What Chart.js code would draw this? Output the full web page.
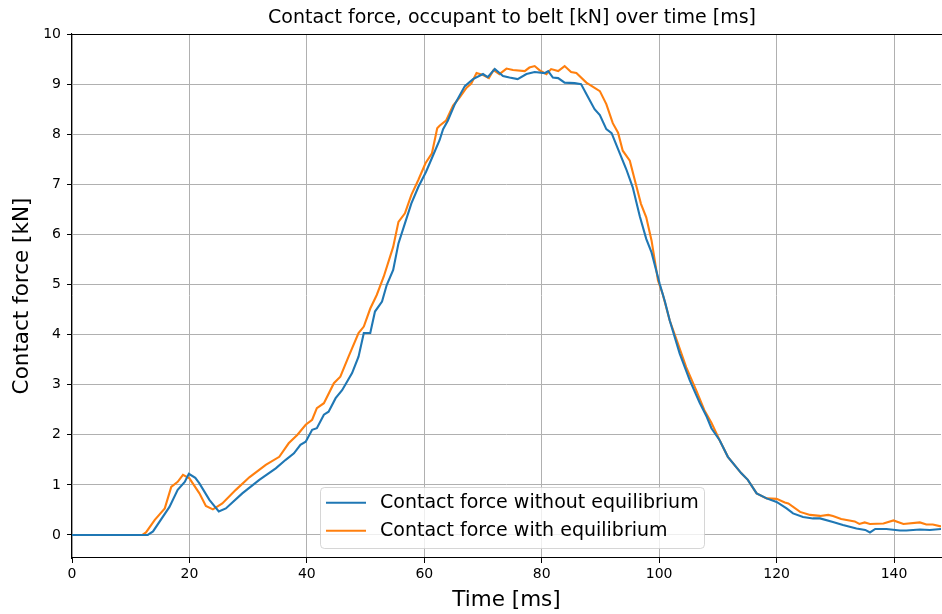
<!DOCTYPE html>
<html>
<head>
<meta charset="utf-8">
<script src="https://cdn.jsdelivr.net/npm/chart.js@4/dist/chart.umd.min.js"></script>
<style>
  html, body { margin: 0; padding: 0; background: #fff; overflow: hidden; }
  #c { display: block; }
</style>
</head>
<body>
<canvas id="c" width="942" height="614"></canvas>
<script>
// Belt contact force over time, two simulation variants.
const timeNoEq = [0, 12.9, 13.8, 16.6, 18.0, 19.2, 19.9, 21.0, 21.7, 23.4, 25.0, 26.2, 29.0, 31.9, 34.7,
  36.4, 37.8, 38.9, 39.8, 40.9, 41.7, 42.9, 43.7, 44.9, 46.0, 47.7, 48.8, 49.7, 50.8, 51.6, 52.8, 53.6,
  54.7, 55.6, 56.7, 57.8, 59.0, 60.3, 61.5, 62.6, 63.2, 64.0, 65.2, 66.9, 68.3, 70.0, 70.8, 72.0, 73.4,
  74.5, 75.9, 77.4, 78.8, 80.5, 81.1, 81.9, 82.8, 83.9, 85.6, 86.7, 87.6, 89.0, 89.9, 91.0, 91.9, 93.0,
  94.4, 95.5, 96.7, 97.8, 98.7, 99.5, 100.1, 101.0, 101.8, 103.5, 105.2, 106.9, 108.1, 108.9, 110.3,
  111.7, 114.0, 115.1, 116.6, 118.3, 120.0, 121.7, 122.8, 124.5, 126.2, 127.4, 129.6, 131.3, 133.6,
  135.1, 135.9, 136.8, 138.7, 141.0, 142.1, 144.4, 146.1, 148.0];
const forceNoEq = [0, 0, 0.07, 0.56, 0.90, 1.06, 1.22, 1.14, 1.03, 0.70, 0.47, 0.53, 0.83, 1.10, 1.33,
  1.50, 1.63, 1.80, 1.86, 2.10, 2.13, 2.40, 2.46, 2.73, 2.89, 3.23, 3.56, 4.03, 4.03, 4.46, 4.66, 4.99,
  5.29, 5.82, 6.22, 6.62, 6.95, 7.25, 7.58, 7.88, 8.10, 8.27, 8.60, 8.96, 9.10, 9.20, 9.14, 9.30, 9.16,
  9.13, 9.10, 9.20, 9.24, 9.22, 9.26, 9.13, 9.12, 9.03, 9.02, 9.00, 8.80, 8.50, 8.38, 8.10, 8.02, 7.70,
  7.30, 6.94, 6.36, 5.91, 5.64, 5.28, 5.01, 4.65, 4.28, 3.62, 3.09, 2.64, 2.36, 2.13, 1.89,
  1.56, 1.23, 1.10, 0.83, 0.73, 0.66, 0.53, 0.43, 0.36, 0.33, 0.33, 0.26, 0.20, 0.13,
  0.10, 0.05, 0.12, 0.12, 0.09, 0.09, 0.11, 0.10, 0.12];

const timeEq = [0, 12.0, 12.6, 14.1, 15.8, 16.9, 18.0, 18.9, 20.0, 21.7, 22.8, 24.0, 25.6, 27.9, 30.2,
  33.0, 35.3, 36.9, 38.4, 39.8, 40.9, 41.7, 42.9, 44.6, 45.7, 47.1, 48.8, 49.7, 50.8, 51.9, 53.1, 54.7,
  55.6, 56.7, 57.8, 59.0, 60.2, 61.3, 62.2, 62.6, 63.7, 64.9, 66.0, 67.2, 68.0, 68.9, 70.0, 71.0, 71.8,
  72.8, 74.0, 75.1, 77.1, 77.9, 78.8, 79.6, 80.8, 81.6, 82.8, 83.9, 85.0, 85.9, 87.6, 89.9, 91.0, 92.1,
  93.0, 93.8, 95.0, 96.1, 96.9, 97.8, 98.7, 99.8, 100.6, 101.8, 103.2, 104.6, 106.3, 107.7, 108.9,
  110.3, 111.7, 114.0, 115.1, 116.6, 118.3, 120.0, 121.4, 122.0, 124.0, 125.7, 127.4, 128.8, 129.6,
  131.0, 133.3, 134.1, 135.0, 135.9, 138.2, 139.9, 141.6, 144.4, 145.5, 146.6, 148.0];
const forceEq = [0, 0, 0.05, 0.30, 0.53, 0.96, 1.06, 1.20, 1.13, 0.83, 0.58, 0.51, 0.63, 0.90, 1.15,
  1.40, 1.56, 1.83, 2.00, 2.20, 2.30, 2.53, 2.63, 3.03, 3.16, 3.56, 4.03, 4.16, 4.52, 4.79, 5.16, 5.75,
  6.25, 6.42, 6.79, 7.09, 7.42, 7.62, 8.12, 8.17, 8.27, 8.57, 8.73, 8.93, 9.01, 9.22, 9.18, 9.12, 9.28,
  9.20, 9.31, 9.28, 9.26, 9.33, 9.36, 9.28, 9.20, 9.30, 9.26, 9.36, 9.24, 9.22, 9.03, 8.86, 8.60, 8.22,
  8.03, 7.67, 7.47, 6.97, 6.61, 6.34, 5.88, 5.08, 4.81, 4.28, 3.82, 3.35, 2.89, 2.49, 2.24,
  1.89, 1.56, 1.23, 1.10, 0.83, 0.73, 0.72, 0.65, 0.63, 0.46, 0.40, 0.38, 0.40, 0.38,
  0.32, 0.27, 0.22, 0.25, 0.22, 0.23, 0.29, 0.22, 0.25, 0.21, 0.21, 0.17];

const seriesNames = ['Contact force without equilibrium', 'Contact force with equilibrium'];
const seriesColors = ['#1f77b4', '#ff7f0e'];
const titleText = 'Contact force, occupant to belt [kN] over time [ms]';
const xLabel = 'Time [ms]';
const yLabel = 'Contact force [kN]';

const FONT = '"DejaVu Sans", "Liberation Sans", sans-serif';

function pairs(xs, ys) {
  return xs.map((x, i) => ({ x: x, y: ys[i] }));
}

// Title, top frame line and the in-plot legend.
const decorations = {
  id: 'decorations',
  afterDatasetsDraw(chart) {
    const ctx = chart.ctx;
    const a = chart.chartArea;
    const cx = 512;
    ctx.save();
    // top spine
    ctx.strokeStyle = '#000';
    ctx.lineWidth = 1.1;
    ctx.beginPath();
    ctx.moveTo(a.left, a.top + 0.5);
    ctx.lineTo(a.right + 1, a.top + 0.5);
    ctx.stroke();

    // title
    ctx.fillStyle = '#000';
    ctx.font = '19px ' + FONT;
    ctx.textAlign = 'center';
    ctx.textBaseline = 'middle';
    ctx.fillText(titleText, cx, 18);

    // legend box
    const bx = 320.5, by = 487.5, bw = 384, bh = 61, r = 4;
    ctx.beginPath();
    ctx.moveTo(bx + r, by);
    ctx.lineTo(bx + bw - r, by);
    ctx.quadraticCurveTo(bx + bw, by, bx + bw, by + r);
    ctx.lineTo(bx + bw, by + bh - r);
    ctx.quadraticCurveTo(bx + bw, by + bh, bx + bw - r, by + bh);
    ctx.lineTo(bx + r, by + bh);
    ctx.quadraticCurveTo(bx, by + bh, bx, by + bh - r);
    ctx.lineTo(bx, by + r);
    ctx.quadraticCurveTo(bx, by, bx + r, by);
    ctx.closePath();
    ctx.fillStyle = 'rgba(255,255,255,0.8)';
    ctx.fill();
    ctx.strokeStyle = 'rgba(204,204,204,0.8)';
    ctx.lineWidth = 1;
    ctx.stroke();

    const rows = [502.7, 530.7];
    ctx.textAlign = 'left';
    ctx.textBaseline = 'middle';
    ctx.font = '19px ' + FONT;
    seriesNames.forEach((name, i) => {
      ctx.strokeStyle = seriesColors[i];
      ctx.lineWidth = 2.1;
      ctx.beginPath();
      ctx.moveTo(326, rows[i]);
      ctx.lineTo(366, rows[i]);
      ctx.stroke();
      ctx.fillStyle = '#000';
      ctx.fillText(name, 380, rows[i]);
    });
    ctx.restore();
  }
};

new Chart(document.getElementById('c'), {
  type: 'line',
  data: {
    datasets: [
      { label: seriesNames[0], data: pairs(timeNoEq, forceNoEq), borderColor: seriesColors[0],
        backgroundColor: seriesColors[0], borderWidth: 2.1, pointRadius: 0, tension: 0, fill: false },
      { label: seriesNames[1], data: pairs(timeEq, forceEq), borderColor: seriesColors[1],
        backgroundColor: seriesColors[1], borderWidth: 2.1, pointRadius: 0, tension: 0, fill: false }
    ]
  },
  options: {
    responsive: false,
    animation: false,
    events: [],
    layout: { padding: { left: 0, right: 1, top: 34, bottom: 0 } },
    plugins: { legend: { display: false }, title: { display: false }, tooltip: { enabled: false } },
    scales: {
      x: {
        type: 'linear',
        min: 0,
        max: 148,
        afterFit(s) { s.height = 56; },
        ticks: { stepSize: 20, includeBounds: false, color: '#000', padding: 3,
          font: { family: FONT, size: 14 }, maxRotation: 0 },
        grid: { color: '#b0b0b0', lineWidth: 1, tickLength: 5, tickColor: '#000', tickWidth: 1 },
        border: { display: true, color: '#000', width: 1.1 },
        title: { display: true, text: xLabel, color: '#000', font: { family: FONT, size: 21.5 },
          padding: { top: 0, bottom: 1 } }
      },
      y: {
        type: 'linear',
        min: -0.46,
        max: 10,
        afterFit(s) { s.width = 72; },
        ticks: { stepSize: 1, includeBounds: false, color: '#000', padding: 6,
          font: { family: FONT, size: 14 } },
        grid: { color: '#b0b0b0', lineWidth: 1, tickLength: 5, tickColor: '#000', tickWidth: 1 },
        border: { display: true, color: '#000', width: 1.1 },
        title: { display: true, text: yLabel, color: '#000', font: { family: FONT, size: 21.5 },
          padding: { top: 10, bottom: 0 } }
      }
    }
  },
  plugins: [decorations]
});
</script>
</body>
</html>
